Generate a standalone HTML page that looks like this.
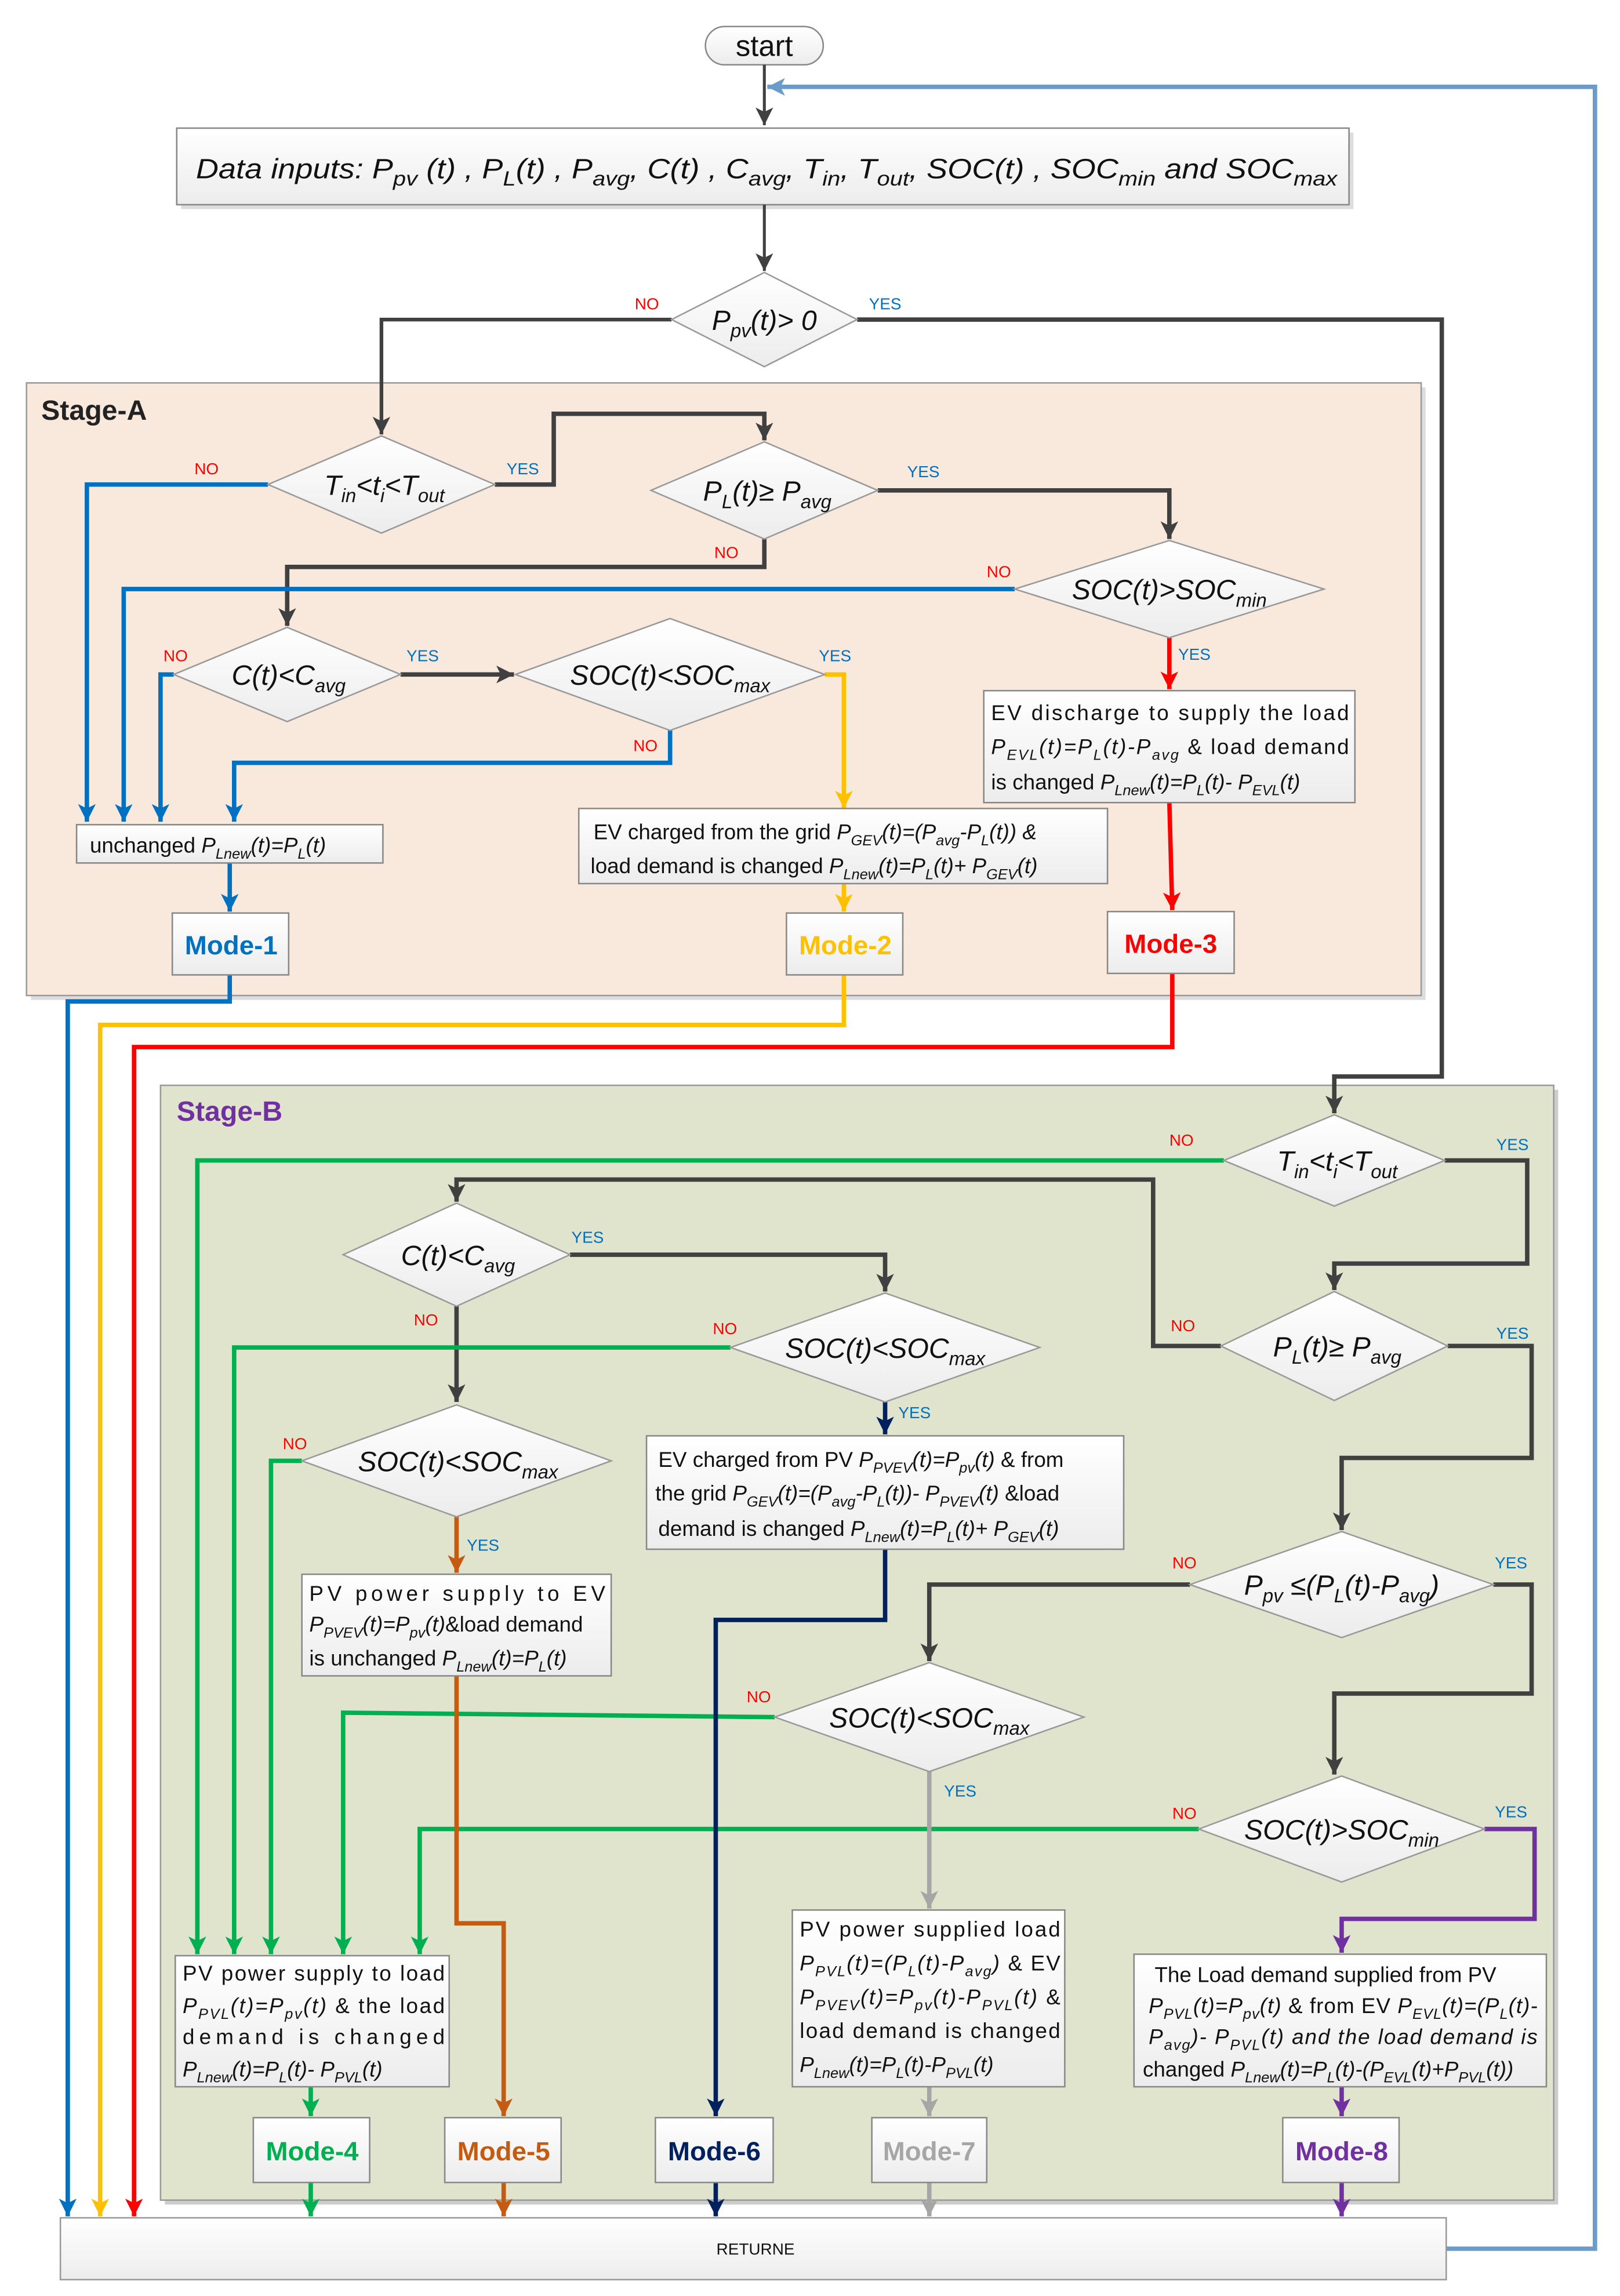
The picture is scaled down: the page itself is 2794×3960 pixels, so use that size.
<!DOCTYPE html>
<html><head><meta charset="utf-8"><style>
html,body{margin:0;padding:0;background:#fff}
svg{display:block}
text{font-family:"Liberation Sans",sans-serif}
.d{font-style:italic;font-size:19px;fill:#111}
.t{font-size:14.5px;fill:#111}
.lbl{font-size:11px}
.no{fill:#ff0000}.yes{fill:#0070c0}
.m{font-size:18px;font-weight:bold;text-anchor:middle}
</style></head><body>
<svg width="2794" height="3960" viewBox="0 0 1100 1559.1" preserveAspectRatio="none" xmlns="http://www.w3.org/2000/svg">
<defs>
<linearGradient id="gf" x1="0" y1="0" x2="0" y2="1"><stop offset="0" stop-color="#ffffff"/><stop offset="1" stop-color="#ececec"/></linearGradient>
<marker id="ak" markerUnits="userSpaceOnUse" markerWidth="14" markerHeight="12" refX="12" refY="6" orient="auto"><path d="M0,0 L12,6 L0,12 L3,6z" fill="#404040"/></marker>
<marker id="ab" markerUnits="userSpaceOnUse" markerWidth="14" markerHeight="12" refX="12" refY="6" orient="auto"><path d="M0,0 L12,6 L0,12 L3,6z" fill="#0070c0"/></marker>
<marker id="ay" markerUnits="userSpaceOnUse" markerWidth="14" markerHeight="12" refX="12" refY="6" orient="auto"><path d="M0,0 L12,6 L0,12 L3,6z" fill="#ffc000"/></marker>
<marker id="ar" markerUnits="userSpaceOnUse" markerWidth="14" markerHeight="12" refX="12" refY="6" orient="auto"><path d="M0,0 L12,6 L0,12 L3,6z" fill="#ff0000"/></marker>
<marker id="ag" markerUnits="userSpaceOnUse" markerWidth="14" markerHeight="12" refX="12" refY="6" orient="auto"><path d="M0,0 L12,6 L0,12 L3,6z" fill="#00b050"/></marker>
<marker id="an" markerUnits="userSpaceOnUse" markerWidth="14" markerHeight="12" refX="12" refY="6" orient="auto"><path d="M0,0 L12,6 L0,12 L3,6z" fill="#002060"/></marker>
<marker id="ao" markerUnits="userSpaceOnUse" markerWidth="14" markerHeight="12" refX="12" refY="6" orient="auto"><path d="M0,0 L12,6 L0,12 L3,6z" fill="#c55a11"/></marker>
<marker id="agr" markerUnits="userSpaceOnUse" markerWidth="14" markerHeight="12" refX="12" refY="6" orient="auto"><path d="M0,0 L12,6 L0,12 L3,6z" fill="#a6a6a6"/></marker>
<marker id="ap" markerUnits="userSpaceOnUse" markerWidth="14" markerHeight="12" refX="12" refY="6" orient="auto"><path d="M0,0 L12,6 L0,12 L3,6z" fill="#7030a0"/></marker>
<marker id="al" markerUnits="userSpaceOnUse" markerWidth="14" markerHeight="12" refX="12" refY="6" orient="auto"><path d="M0,0 L12,6 L0,12 L3,6z" fill="#6a9bc9"/></marker>
</defs>

<!-- stages -->
<rect x="21" y="263" width="947" height="416" fill="#ddd"/>
<rect x="18" y="260" width="947" height="416" fill="#f9e9dc" stroke="#999" stroke-width="1"/>
<text x="28" y="285" font-family="Liberation Serif,serif" font-weight="bold" font-size="19" fill="#222">Stage-A</text>
<rect x="112" y="740" width="946" height="757" fill="#ccc"/>
<rect x="109" y="737" width="946" height="757" fill="#e0e4cc" stroke="#999" stroke-width="1"/>
<text x="120" y="761" font-family="Liberation Serif,serif" font-weight="bold" font-size="19" fill="#7030a0">Stage-B</text>

<!-- start / data -->
<rect x="479" y="18" width="80" height="26" rx="13" fill="url(#gf)" stroke="#888"/>
<text x="519" y="38" font-size="20" text-anchor="middle" fill="#111">start</text>
<rect x="123" y="90" width="796" height="52" fill="#ddd"/>
<rect x="120" y="87" width="796" height="52" fill="url(#gf)" stroke="#888"/>
<text x="133" y="121" class="d" font-size="21" textLength="775" lengthAdjust="spacingAndGlyphs">Data inputs: P<tspan font-size="14" dy="5">pv</tspan><tspan dy="-5"> (t) , P</tspan><tspan font-size="14" dy="5">L</tspan><tspan dy="-5">(t) , P</tspan><tspan font-size="14" dy="5">avg</tspan><tspan dy="-5">, C(t) , C</tspan><tspan font-size="14" dy="5">avg</tspan><tspan dy="-5">, T</tspan><tspan font-size="14" dy="5">in</tspan><tspan dy="-5">, T</tspan><tspan font-size="14" dy="5">out</tspan><tspan dy="-5">, SOC(t) , SOC</tspan><tspan font-size="14" dy="5">min</tspan><tspan dy="-5"> and SOC</tspan><tspan font-size="14" dy="5">max</tspan></text>

<!-- connectors -->
<g fill="none" stroke-width="3" stroke-linejoin="miter">
<g stroke="#404040" marker-end="url(#ak)">
<path d="M519,44 V85" stroke-width="2"/>
<path d="M519,139 V184" stroke-width="2"/>
<path d="M456,217 H259 V295" stroke-width="2.5"/>
<path d="M582,217 H979 V731 H906 V756"/>
<path d="M336,329 H376 V281 H519 V299"/>
<path d="M596,333 H794 V366"/>
<path d="M519,366 V385 H195 V425"/>
<path d="M272,458 H349"/>
<path d="M981,788 H1037 V858 H906 V876"/>
<path d="M829,914 H783 V801 H310 V816"/>
<path d="M387,852 H601 V877"/>
<path d="M310,887 V952"/>
<path d="M983,914 H1040 V990 H911 V1039"/>
<path d="M808,1076 H631 V1128"/>
<path d="M1014,1076 H1040 V1150 H906 V1205"/>
</g>
<g stroke="#0070c0" marker-end="url(#ab)">
<path d="M182,329 H59 V558"/>
<path d="M689,400 H84 V558"/>
<path d="M118,458 H109 V558"/>
<path d="M455,496 V518 H159 V558"/>
<path d="M156,586 V619"/>
<path d="M156,662 V680 H46 V1505"/>
</g>
<g stroke="#ffc000" marker-end="url(#ay)">
<path d="M560,458 H573 V549"/>
<path d="M573,600 V619"/>
<path d="M573,662 V696 H68 V1505"/>
</g>
<g stroke="#ff0000" marker-end="url(#ar)">
<path d="M794,433 V468"/>
<path d="M794,545 L796,618"/>
<path d="M796,661 V711 H91 V1505"/>
</g>
<g stroke="#00b050" marker-end="url(#ag)">
<path d="M831,788 H134 V1327"/>
<path d="M496,915 H159 V1327"/>
<path d="M205,992 H184 V1327"/>
<path d="M526,1166 L233,1163 V1327"/>
<path d="M814,1242 H285 V1327"/>
<path d="M211,1417 V1437"/>
<path d="M211,1482 V1505"/>
</g>
<g stroke="#002060" marker-end="url(#an)">
<path d="M601,952 V974"/>
<path d="M601,1052 V1100 H486 V1437"/>
<path d="M486,1482 V1505"/>
</g>
<g stroke="#c55a11" marker-end="url(#ao)">
<path d="M310,1030 V1068"/>
<path d="M310,1138 V1306 H342 V1437"/>
<path d="M342,1482 V1505"/>
</g>
<g stroke="#a6a6a6" marker-end="url(#agr)">
<path d="M631,1203 V1296"/>
<path d="M631,1417 V1437"/>
<path d="M631,1482 V1505"/>
</g>
<g stroke="#7030a0" marker-end="url(#ap)">
<path d="M1008,1242 H1042 V1303 H911 V1326"/>
<path d="M911,1417 V1437"/>
<path d="M911,1482 V1505"/>
</g>
<path d="M982,1527 H1083 V59 H521" stroke="#6a9bc9" marker-end="url(#al)"/>
</g>

<!-- diamonds -->
<g fill="url(#gf)" stroke="#999" stroke-width="1">
<polygon points="519,185 582,217 519,249 456,217"/>
<polygon points="259,296 336,329 259,362 182,329"/>
<polygon points="519,300 596,333 519,366 442,333"/>
<polygon points="794,367 899,400 794,433 689,400"/>
<polygon points="195,426 272,458 195,490 118,458"/>
<polygon points="455,420 560,458 455,496 350,458"/>
<polygon points="906,757 981,788 906,819 831,788"/>
<polygon points="906,877 983,914 906,951 829,914"/>
<polygon points="310,817 387,852 310,887 233,852"/>
<polygon points="601,878 706,915 601,952 496,915"/>
<polygon points="310,954 415,992 310,1030 205,992"/>
<polygon points="911,1040 1014,1076 911,1112 808,1076"/>
<polygon points="631,1129 736,1166 631,1203 526,1166"/>
<polygon points="911,1206 1008,1242 911,1278 814,1242"/>
</g>
<g class="d" text-anchor="middle">
<text x="519" y="224">P<tspan font-size="13" dy="5">pv</tspan><tspan dy="-5">(t)&gt; 0</tspan></text>
<text x="261" y="336">T<tspan font-size="13" dy="5">in</tspan><tspan dy="-5">&lt;t</tspan><tspan font-size="13" dy="5">i</tspan><tspan dy="-5">&lt;T</tspan><tspan font-size="13" dy="5">out</tspan></text>
<text x="521" y="340">P<tspan font-size="13" dy="5">L</tspan><tspan dy="-5">(t)≥ P</tspan><tspan font-size="13" dy="5">avg</tspan></text>
<text x="794" y="407">SOC(t)&gt;SOC<tspan font-size="13" dy="5">min</tspan></text>
<text x="196" y="465">C(t)&lt;C<tspan font-size="13" dy="5">avg</tspan></text>
<text x="455" y="465">SOC(t)&lt;SOC<tspan font-size="13" dy="5">max</tspan></text>
<text x="908" y="795">T<tspan font-size="13" dy="5">in</tspan><tspan dy="-5">&lt;t</tspan><tspan font-size="13" dy="5">i</tspan><tspan dy="-5">&lt;T</tspan><tspan font-size="13" dy="5">out</tspan></text>
<text x="908" y="921">P<tspan font-size="13" dy="5">L</tspan><tspan dy="-5">(t)≥ P</tspan><tspan font-size="13" dy="5">avg</tspan></text>
<text x="311" y="859">C(t)&lt;C<tspan font-size="13" dy="5">avg</tspan></text>
<text x="601" y="922">SOC(t)&lt;SOC<tspan font-size="13" dy="5">max</tspan></text>
<text x="311" y="999">SOC(t)&lt;SOC<tspan font-size="13" dy="5">max</tspan></text>
<text x="911" y="1083">P<tspan font-size="13" dy="5">pv</tspan><tspan dy="-5"> ≤(P</tspan><tspan font-size="13" dy="5">L</tspan><tspan dy="-5">(t)-P</tspan><tspan font-size="13" dy="5">avg</tspan><tspan dy="-5">)</tspan></text>
<text x="631" y="1173">SOC(t)&lt;SOC<tspan font-size="13" dy="5">max</tspan></text>
<text x="911" y="1249">SOC(t)&gt;SOC<tspan font-size="13" dy="5">min</tspan></text>
</g>

<!-- yes/no labels -->
<g class="lbl">
<text class="no" x="431" y="210">NO</text><text class="yes" x="590" y="210">YES</text>
<text class="no" x="132" y="322">NO</text><text class="yes" x="344" y="322">YES</text>
<text class="yes" x="616" y="324">YES</text><text class="no" x="485" y="379">NO</text>
<text class="no" x="670" y="392">NO</text><text class="yes" x="800" y="448">YES</text>
<text class="no" x="111" y="449">NO</text><text class="yes" x="276" y="449">YES</text>
<text class="yes" x="556" y="449">YES</text><text class="no" x="430" y="510">NO</text>
<text class="no" x="794" y="778">NO</text><text class="yes" x="1016" y="781">YES</text>
<text class="yes" x="388" y="844">YES</text><text class="no" x="281" y="900">NO</text>
<text class="no" x="484" y="906">NO</text><text class="yes" x="610" y="963">YES</text>
<text class="no" x="795" y="904">NO</text><text class="yes" x="1016" y="909">YES</text>
<text class="no" x="192" y="984">NO</text><text class="yes" x="317" y="1053">YES</text>
<text class="no" x="796" y="1065">NO</text><text class="yes" x="1015" y="1065">YES</text>
<text class="no" x="507" y="1156">NO</text><text class="yes" x="641" y="1220">YES</text>
<text class="no" x="796" y="1235">NO</text><text class="yes" x="1015" y="1234">YES</text>
</g>

<!-- process boxes -->
<g fill="url(#gf)" stroke="#888" stroke-width="1">
<rect x="668" y="469" width="252" height="76"/>
<rect x="52" y="560" width="208" height="26"/>
<rect x="393" y="549" width="359" height="51"/>
<rect x="439" y="975" width="324" height="77"/>
<rect x="205" y="1069" width="210" height="69"/>
<rect x="119" y="1328" width="186" height="89"/>
<rect x="538" y="1297" width="185" height="120"/>
<rect x="770" y="1327" width="280" height="90"/>
</g>
<g class="t">
<text x="673" y="489" textLength="243" lengthAdjust="spacing">EV discharge to supply the load</text>
<text x="673" y="512" textLength="243" lengthAdjust="spacing"><tspan font-style="italic">P<tspan font-size="10" dy="4">EVL</tspan><tspan dy="-4">(t)=P</tspan><tspan font-size="10" dy="4">L</tspan><tspan dy="-4">(t)-P</tspan><tspan font-size="10" dy="4">avg</tspan></tspan><tspan dy="-4"> &amp; load demand</tspan></text>
<text x="673" y="536">is changed  <tspan font-style="italic">P<tspan font-size="10" dy="4">Lnew</tspan><tspan dy="-4">(t)=P</tspan><tspan font-size="10" dy="4">L</tspan><tspan dy="-4">(t)- P</tspan><tspan font-size="10" dy="4">EVL</tspan><tspan dy="-4">(t)</tspan></tspan></text>
<text x="61" y="579">unchanged <tspan font-style="italic">P<tspan font-size="10" dy="4">Lnew</tspan><tspan dy="-4">(t)=P</tspan><tspan font-size="10" dy="4">L</tspan><tspan dy="-4">(t)</tspan></tspan></text>
<text x="403" y="570">EV charged from the grid <tspan font-style="italic">P<tspan font-size="10" dy="4">GEV</tspan><tspan dy="-4">(t)=(P</tspan><tspan font-size="10" dy="4">avg</tspan><tspan dy="-4">-P</tspan><tspan font-size="10" dy="4">L</tspan><tspan dy="-4">(t)) &amp;</tspan></tspan></text>
<text x="401" y="593">load demand is changed  <tspan font-style="italic">P<tspan font-size="10" dy="4">Lnew</tspan><tspan dy="-4">(t)=P</tspan><tspan font-size="10" dy="4">L</tspan><tspan dy="-4">(t)+ P</tspan><tspan font-size="10" dy="4">GEV</tspan><tspan dy="-4">(t)</tspan></tspan></text>
<text x="447" y="996">EV charged from PV <tspan font-style="italic">P<tspan font-size="10" dy="4">PVEV</tspan><tspan dy="-4">(t)=P</tspan><tspan font-size="10" dy="4">pv</tspan><tspan dy="-4">(t)</tspan></tspan> &amp; from</text>
<text x="445" y="1019">the grid <tspan font-style="italic">P<tspan font-size="10" dy="4">GEV</tspan><tspan dy="-4">(t)=(P</tspan><tspan font-size="10" dy="4">avg</tspan><tspan dy="-4">-P</tspan><tspan font-size="10" dy="4">L</tspan><tspan dy="-4">(t))- P</tspan><tspan font-size="10" dy="4">PVEV</tspan><tspan dy="-4">(t)</tspan></tspan> &amp;load</text>
<text x="447" y="1043">demand is changed  <tspan font-style="italic">P<tspan font-size="10" dy="4">Lnew</tspan><tspan dy="-4">(t)=P</tspan><tspan font-size="10" dy="4">L</tspan><tspan dy="-4">(t)+ P</tspan><tspan font-size="10" dy="4">GEV</tspan><tspan dy="-4">(t)</tspan></tspan></text>
<text x="210" y="1087" textLength="201" lengthAdjust="spacing">PV power supply to EV</text>
<text x="210" y="1108" font-style="italic">P<tspan font-size="10" dy="4">PVEV</tspan><tspan dy="-4">(t)=P</tspan><tspan font-size="10" dy="4">pv</tspan><tspan dy="-4">(t)</tspan><tspan font-style="normal">&amp;load demand</tspan></text>
<text x="210" y="1131">is unchanged <tspan font-style="italic">P<tspan font-size="10" dy="4">Lnew</tspan><tspan dy="-4">(t)=P</tspan><tspan font-size="10" dy="4">L</tspan><tspan dy="-4">(t)</tspan></tspan></text>
<text x="124" y="1345" textLength="178" lengthAdjust="spacing">PV power supply to load</text>
<text x="124" y="1367" textLength="178" lengthAdjust="spacing"><tspan font-style="italic">P<tspan font-size="10" dy="4">PVL</tspan><tspan dy="-4">(t)=P</tspan><tspan font-size="10" dy="4">pv</tspan><tspan dy="-4">(t)</tspan></tspan> &amp; the load</text>
<text x="124" y="1388" textLength="178" lengthAdjust="spacing">demand is changed</text>
<text x="124" y="1410" font-style="italic">P<tspan font-size="10" dy="4">Lnew</tspan><tspan dy="-4">(t)=P</tspan><tspan font-size="10" dy="4">L</tspan><tspan dy="-4">(t)- P</tspan><tspan font-size="10" dy="4">PVL</tspan><tspan dy="-4">(t)</tspan></text>
<text x="543" y="1315" textLength="177" lengthAdjust="spacing">PV power supplied load</text>
<text x="543" y="1338" textLength="177" lengthAdjust="spacing"><tspan font-style="italic">P<tspan font-size="10" dy="4">PVL</tspan><tspan dy="-4">(t)=(P</tspan><tspan font-size="10" dy="4">L</tspan><tspan dy="-4">(t)-P</tspan><tspan font-size="10" dy="4">avg</tspan><tspan dy="-4">)</tspan></tspan> &amp; EV</text>
<text x="543" y="1361" textLength="177" lengthAdjust="spacing"><tspan font-style="italic">P<tspan font-size="10" dy="4">PVEV</tspan><tspan dy="-4">(t)=P</tspan><tspan font-size="10" dy="4">pv</tspan><tspan dy="-4">(t)-P</tspan><tspan font-size="10" dy="4">PVL</tspan><tspan dy="-4">(t)</tspan></tspan> &amp;</text>
<text x="543" y="1384" textLength="177" lengthAdjust="spacing">load demand is changed</text>
<text x="543" y="1407" font-style="italic">P<tspan font-size="10" dy="4">Lnew</tspan><tspan dy="-4">(t)=P</tspan><tspan font-size="10" dy="4">L</tspan><tspan dy="-4">(t)-P</tspan><tspan font-size="10" dy="4">PVL</tspan><tspan dy="-4">(t)</tspan></text>
<text x="784" y="1346">The Load demand supplied from PV</text>
<text x="780" y="1367" textLength="264" lengthAdjust="spacing"><tspan font-style="italic">P<tspan font-size="10" dy="4">PVL</tspan><tspan dy="-4">(t)=P</tspan><tspan font-size="10" dy="4">pv</tspan><tspan dy="-4">(t)</tspan></tspan> &amp; from EV <tspan font-style="italic">P<tspan font-size="10" dy="4">EVL</tspan><tspan dy="-4">(t)=(P</tspan><tspan font-size="10" dy="4">L</tspan><tspan dy="-4">(t)-</tspan></tspan></text>
<text x="780" y="1388" textLength="264" lengthAdjust="spacing" font-style="italic">P<tspan font-size="10" dy="4">avg</tspan><tspan dy="-4">)- P</tspan><tspan font-size="10" dy="4">PVL</tspan><tspan dy="-4">(t) and the load demand is</tspan></text>
<text x="776" y="1410">changed  <tspan font-style="italic">P<tspan font-size="10" dy="4">Lnew</tspan><tspan dy="-4">(t)=P</tspan><tspan font-size="10" dy="4">L</tspan><tspan dy="-4">(t)-(P</tspan><tspan font-size="10" dy="4">EVL</tspan><tspan dy="-4">(t)+P</tspan><tspan font-size="10" dy="4">PVL</tspan><tspan dy="-4">(t))</tspan></tspan></text>
</g>

<!-- modes -->
<g fill="url(#gf)" stroke="#888" stroke-width="1">
<rect x="117" y="620" width="79" height="42"/>
<rect x="534" y="620" width="79" height="42"/>
<rect x="752" y="619" width="86" height="42"/>
<rect x="172" y="1438" width="79" height="44"/>
<rect x="302" y="1438" width="79" height="44"/>
<rect x="445" y="1438" width="80" height="44"/>
<rect x="592" y="1438" width="78" height="44"/>
<rect x="871" y="1438" width="79" height="44"/>
</g>
<text class="m" x="157" y="648" fill="#0070c0">Mode-1</text>
<text class="m" x="574" y="648" fill="#ffc000">Mode-2</text>
<text class="m" x="795" y="647" fill="#ff0000">Mode-3</text>
<text class="m" x="212" y="1467" fill="#00b050">Mode-4</text>
<text class="m" x="342" y="1467" fill="#c55a11">Mode-5</text>
<text class="m" x="485" y="1467" fill="#002060">Mode-6</text>
<text class="m" x="631" y="1467" fill="#a6a6a6">Mode-7</text>
<text class="m" x="911" y="1467" fill="#7030a0">Mode-8</text>

<!-- returne -->
<rect x="41" y="1506" width="941" height="42" fill="url(#gf)" stroke="#999"/>
<text x="513" y="1531" font-size="11" text-anchor="middle" fill="#111">RETURNE</text>
</svg>
</body></html>
